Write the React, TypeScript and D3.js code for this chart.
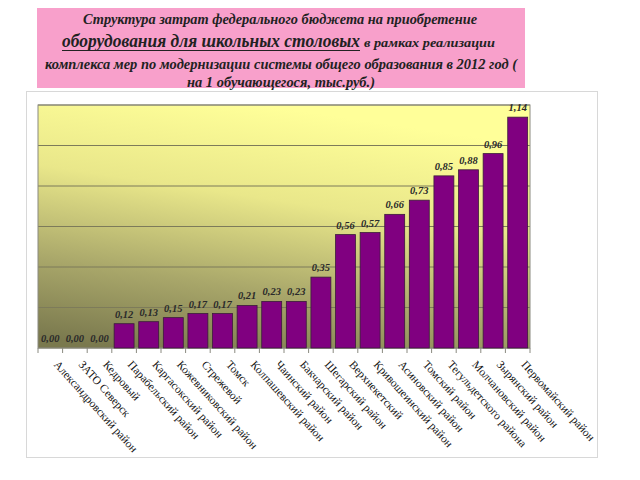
import React from "react";
import * as d3 from "d3";

const categories = [
  "Александровский район",
  "ЗАТО Северск",
  "Кедровый",
  "Парабельский район",
  "Каргасокский район",
  "Кожевниковский район",
  "Стрежевой",
  "Томск",
  "Колпашевский район",
  "Чаинский район",
  "Бакчарский район",
  "Шегарский район",
  "Верхнекетский",
  "Кривошеинский район",
  "Асиновский район",
  "Томский район",
  "Тегульдетского района",
  "Молчановский район",
  "Зырянский район",
  "Первомайский район",
];
const values = [0, 0, 0, 0.12, 0.13, 0.15, 0.17, 0.17, 0.21, 0.23, 0.23, 0.35, 0.56, 0.57, 0.66, 0.73, 0.85, 0.88, 0.96, 1.14];
const gridTicks = [0, 0.2, 0.4, 0.6, 0.8, 1.0, 1.2];
const titleLine1 = "Структура затрат федерального бюджета на приобретение";
const titleLine2a = "оборудования для школьных столовых";
const titleLine2b = "в рамках  реализации";
const titleLine3 = "комплекса мер по модернизации системы общего образования в 2012 год (";
const titleLine4 = "на 1 обучающегося, тыс.руб.)";

const plot = { left: 38, top: 105, right: 530, bottom: 348 };

export default function App() {
  const x = d3
    .scaleBand<string>()
    .domain(categories)
    .range([plot.left, plot.right])
    .paddingInner(0.19)
    .paddingOuter(0.095);
  const step = (plot.right - plot.left) / categories.length;
  const y = d3.scaleLinear().domain([0, 1.2]).range([plot.bottom, plot.top]);
  const fmt = (v: number) => v.toFixed(2).replace(".", ",");
  const serif = "'Liberation Serif', 'Times New Roman', serif";

  return (
    <svg
      width={640}
      height={480}
      style={{ position: "absolute", left: 0, top: 0, background: "#fff" }}
    >
      <defs>
        <linearGradient id="bg" x1="0.15" y1="1" x2="0.45" y2="0">
          <stop offset="0" stopColor="#7a794e" />
          <stop offset="0.3" stopColor="#a9a76a" />
          <stop offset="0.65" stopColor="#e9e78a" />
          <stop offset="1" stopColor="#ffff99" />
        </linearGradient>
      </defs>
      {/* title box */}
      <rect x={37} y={8} width={488} height={80} fill="#f8a0cb" />
      <g fontFamily={serif} fontWeight="bold" fontStyle="italic" fill="#222">
        <text x={83} y={24} fontSize={14.5} textLength={394} lengthAdjust="spacingAndGlyphs">
          {titleLine1}
        </text>
        <text x={62} y={47} fontSize={18} textLength={298} lengthAdjust="spacingAndGlyphs">
          {titleLine2a}
        </text>
        <line x1={62} x2={360} y1={50.5} y2={50.5} stroke="#222" strokeWidth={1.2} />
        <text x={364} y={47} fontSize={13.5} textLength={131} lengthAdjust="spacingAndGlyphs">
          {titleLine2b}
        </text>
        <text x={45} y={69} fontSize={14.5} textLength={472} lengthAdjust="spacingAndGlyphs">
          {titleLine3}
        </text>
        <text x={187} y={87} fontSize={14.5} textLength={188} lengthAdjust="spacingAndGlyphs">
          {titleLine4}
        </text>
      </g>
      {/* chart frame */}
      <rect x={26.5} y={91.5} width={571} height={366} fill="none" stroke="#d8d8d8" strokeWidth={1} />
      {/* plot area */}
      <rect
        x={plot.left}
        y={plot.top}
        width={plot.right - plot.left}
        height={plot.bottom - plot.top}
        fill="url(#bg)"
      />
      {gridTicks.map((t) => (
        <line
          key={t}
          x1={plot.left}
          x2={plot.right}
          y1={y(t)}
          y2={y(t)}
          stroke="#7d7b5a"
          strokeWidth={1}
        />
      ))}
      <rect
        x={plot.left}
        y={plot.top}
        width={plot.right - plot.left}
        height={plot.bottom - plot.top}
        fill="none"
        stroke="#8a8a80"
        strokeWidth={1}
      />
      {/* ticks */}
      {d3.range(categories.length + 1).map((i) => (
        <line
          key={i}
          x1={plot.left + i * step}
          x2={plot.left + i * step}
          y1={plot.bottom}
          y2={plot.bottom + 5}
          stroke="#8a8a80"
        />
      ))}
      {/* bars */}
      {categories.map((c, i) => (
        <rect
          key={c}
          x={x(c)!}
          y={y(values[i])}
          width={x.bandwidth()}
          height={plot.bottom - y(values[i])}
          fill="#800080"
          stroke="#3b1b3b"
          strokeWidth={0.8}
        />
      ))}
      {/* value labels */}
      <g fontFamily={serif} fontWeight="bold" fontStyle="italic" fontSize={10.5} fill="#2a2a2a" textAnchor="middle">
        {categories.map((c, i) => (
          <text key={c} x={x(c)! + x.bandwidth() / 2} y={y(values[i]) - 6}>
            {fmt(values[i])}
          </text>
        ))}
      </g>
      {/* category labels */}
      <g fontFamily={serif} fontSize={11.5} fill="#111">
        {categories.map((c) => {
          const cx = x(c)! + x.bandwidth() / 2 + 3;
          const cy = plot.bottom + 17;
          return (
            <text key={c} x={cx} y={cy} transform={`rotate(48 ${cx} ${cy})`}>
              {c}
            </text>
          );
        })}
      </g>
    </svg>
  );
}
